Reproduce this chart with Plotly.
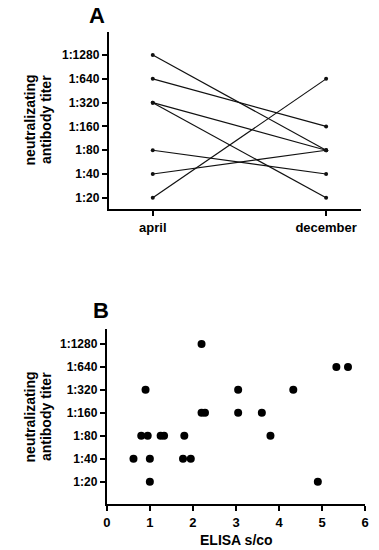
import numpy as np
import plotly.graph_objects as go

# ---- data ----
titer_ticks = [20, 40, 80, 160, 320, 640, 1280]
titer_labels = ["1:20", "1:40", "1:80", "1:160", "1:320", "1:640", "1:1280"]

months = ["april", "december"]
april_titer = [1280, 640, 320, 320, 80, 40, 20]
december_titer = [80, 160, 80, 20, 40, 80, 640]

elisa_sco = [2.2, 5.33, 5.6, 0.9, 3.05, 4.33, 2.2, 2.28, 3.05, 3.6,
             0.8, 0.95, 1.25, 1.33, 1.8, 3.8, 0.62, 1.0, 1.77, 1.95, 1.0, 4.9]
elisa_titer = [1280, 640, 640, 320, 320, 320, 160, 160, 160, 160,
               80, 80, 80, 80, 80, 80, 40, 40, 40, 40, 20, 20]

FONT = "Liberation Sans, Arial, sans-serif"
W, H = 379, 550

fig = go.Figure()

for a, d in zip(april_titer, december_titer):
    fig.add_trace(go.Scatter(
        x=months, y=[a, d], mode="lines+markers",
        line=dict(color="#111111", width=1.2),
        marker=dict(color="#111111", size=4),
        xaxis="x", yaxis="y", showlegend=False, hoverinfo="skip"))

fig.add_trace(go.Scatter(
    x=elisa_sco, y=elisa_titer, mode="markers",
    marker=dict(color="#000000", size=8),
    xaxis="x2", yaxis="y2", showlegend=False))

def lrange(lo_idx, hi_idx):
    b = np.log10(20)
    s = np.log10(2)
    return [b + lo_idx * s, b + hi_idx * s]

axis_common = dict(showline=True, linecolor="#000", linewidth=2,
                   ticks="outside", ticklen=5, tickwidth=1.5, tickcolor="#000",
                   showgrid=False, zeroline=False,
                   tickfont=dict(family=FONT, size=12, color="#000", weight="bold"))

fig.update_layout(
    width=W, height=H, margin=dict(l=0, r=0, t=0, b=0),
    paper_bgcolor="white", plot_bgcolor="white",
    xaxis=dict(domain=[107 / W, 365 / W], type="category",
               range=[-0.254, 1.203], anchor="y", **{**axis_common,
               "tickfont": dict(family=FONT, size=13, color="#000", weight="bold")}),
    yaxis=dict(domain=[1 - 209 / H, 1 - 32 / H], type="log",
               range=lrange(-0.47, 6.97), tickvals=titer_ticks,
               ticktext=titer_labels, anchor="x", **axis_common),
    xaxis2=dict(domain=[105 / W, 369 / W], range=[0, 6], dtick=1,
                anchor="y2", **{**axis_common,
                "tickfont": dict(family=FONT, size=13, color="#000", weight="bold")}),
    yaxis2=dict(domain=[1 - 504 / H, 1 - 329 / H], type="log",
                range=lrange(-0.97, 6.65), tickvals=titer_ticks,
                ticktext=titer_labels, anchor="x2", **axis_common),
)

def ann(text, x, y, size, angle=0):
    fig.add_annotation(text=text, x=x / W, y=1 - y / H, xref="paper", yref="paper",
                       showarrow=False, textangle=angle, xanchor="center",
                       yanchor="middle",
                       font=dict(family=FONT, size=size, color="#000", weight="bold"))

ann("A", 95, 16, 22)
ann("B", 99, 310, 22)
for yc in (120, 417):
    ann("neutralizating", 27, yc, 14, -90)
    ann("antibody titer", 43, yc, 14, -90)
ann("ELISA s/co", 238, 540, 14)

fig.write_html("out.html", config={"displayModeBar": False})

# remove default page margin so the figure sits at the window's top-left
with open("out.html", "r", encoding="utf-8") as f:
    html = f.read()
html = html.replace("<body>", '<body style="margin:0;overflow:hidden">', 1)
with open("out.html", "w", encoding="utf-8") as f:
    f.write(html)
